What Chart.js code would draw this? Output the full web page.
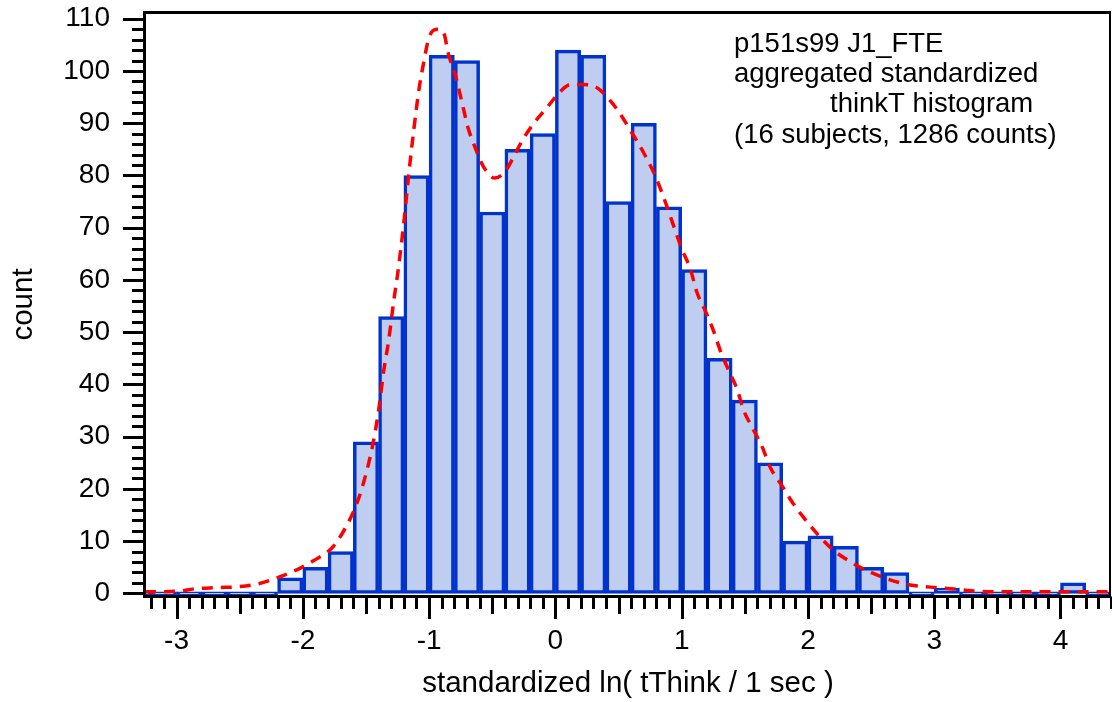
<!DOCTYPE html>
<html>
<head>
<meta charset="utf-8">
<title>thinkT histogram</title>
<script src="https://cdn.jsdelivr.net/npm/chart.js@4.4.1/dist/chart.umd.min.js"></script>
<style>
  html, body { margin: 0; padding: 0; background: #fff; }
  #wrap { width: 1112px; height: 702px; }
</style>
</head>
<body>
<div id="wrap"><canvas id="histChart" width="1112" height="702"></canvas></div>
<script>
// histogram bins, 0.2 wide, given by centre
const binCenters = [-3.3, -3.1, -2.9, -2.7, -2.5, -2.3, -2.1, -1.9, -1.7, -1.5, -1.3, -1.1, -0.9, -0.7, -0.5, -0.3, -0.1,
  0.1, 0.3, 0.5, 0.7, 0.9, 1.1, 1.3, 1.5, 1.7, 1.9, 2.1, 2.3, 2.5, 2.7, 2.9, 3.1, 3.3, 3.5, 3.7, 3.9, 4.1, 4.3];
const binCounts = [0, 0, 0, 0, 0, 0, 3, 5, 8, 29, 53, 80, 103, 102, 73, 85, 88,
  104, 103, 75, 90, 74, 62, 45, 37, 25, 10, 11, 9, 5, 4, 0, 1, 0, 0, 0, 0, 2, 0];

// smoothed density (red dashed)
const curveX = [-3.25, -3.0, -2.85, -2.68, -2.5, -2.36, -2.2, -2.04, -1.92, -1.77, -1.68, -1.6, -1.54, -1.45, -1.4, -1.36,
  -1.32, -1.28, -1.25, -1.2, -1.16, -1.12, -1.08, -1.04, -1.0, -0.93, -0.88, -0.85, -0.79, -0.74, -0.69, -0.63, -0.57,
  -0.48, -0.4, -0.33, -0.26, -0.17, -0.06, 0.04, 0.12, 0.22, 0.33, 0.41, 0.49, 0.59, 0.7, 0.78, 0.85, 0.92, 1.0, 1.07,
  1.12, 1.19, 1.25, 1.31, 1.37, 1.44, 1.49, 1.56, 1.64, 1.7, 1.8, 1.88, 1.98, 2.08, 2.2, 2.34, 2.49, 2.65, 2.81, 2.97,
  3.13, 3.29, 3.47, 3.8, 4.1, 4.4];
const curveY = [0.3, 0.4, 0.9, 1.1, 1.3, 1.8, 3.0, 4.6, 6.2, 8.7, 11.8, 15.6, 19.5, 28, 35, 42.5,
  48.5, 56, 61, 71, 80.5, 89, 96.5, 102, 106.5, 108, 107, 103.5, 99, 94, 89, 85, 81.7,
  79.5, 80.7, 83.6, 86.8, 90, 93.2, 96.1, 97.4, 97.4, 96.8, 95, 92.6, 88.8, 84.3, 80.5, 76.3, 71.5, 66, 62,
  57.7, 53.9, 50.4, 46.2, 42.8, 39, 35.1, 31.7, 27.9, 24.2, 20.4, 17.3, 14.1, 11.2, 8.3, 6.0, 4.1, 2.6, 1.6, 1.2,
  0.9, 0.5, 0.3, 0.3, 0.3, 0.3];

const xTicks = [-3, -2, -1, 0, 1, 2, 3, 4];
const yTicks = [0, 10, 20, 30, 40, 50, 60, 70, 80, 90, 100, 110];

const noteLines = ["p151s99 J1_FTE", "aggregated standardized", "thinkT histogram", "(16 subjects, 1286 counts)"];

const FAMILY = '"Liberation Sans", Arial, Helvetica, sans-serif';
const TICK_FONT = { family: FAMILY, size: 28 };
const TITLE_FONT = { family: FAMILY, size: 29.5 };

// frame, Igor-style tick marks and the note text
const framePlugin = {
  id: "frame",
  afterDraw(chart) {
    const { ctx, chartArea: a, scales } = chart;
    const x = scales.x, y = scales.y;
    const axisY = a.bottom + 0.5;
    const axisX = a.left - 0.5;
    ctx.save();
    ctx.strokeStyle = "#000";
    ctx.lineCap = "butt";
    ctx.lineWidth = 3;

    for (let i = -32; i <= 44; i++) {
      const px = Math.round(x.getPixelForValue(i / 10)) + 0.5;
      const len = i % 10 === 0 ? 21 : (i % 5 === 0 ? 16 : 11);
      ctx.beginPath();
      ctx.moveTo(px, axisY);
      ctx.lineTo(px, axisY + 1.5 + len);
      ctx.stroke();
    }
    for (let v = 0; v <= 110; v += 2) {
      const py = Math.round(y.getPixelForValue(v)) + 0.5;
      const len = v % 10 === 0 ? 20 : 11;
      ctx.beginPath();
      ctx.moveTo(axisX, py);
      ctx.lineTo(axisX - 1.5 - len, py);
      ctx.stroke();
    }

    ctx.beginPath();
    ctx.moveTo(axisX, a.top - 1);
    ctx.lineTo(axisX, axisY + 1.5);
    ctx.moveTo(axisX - 1.5, axisY);
    ctx.lineTo(a.right, axisY);
    ctx.moveTo(axisX - 1.5, a.top - 0.5);
    ctx.lineTo(a.right, a.top - 0.5);
    ctx.stroke();
    ctx.lineWidth = 2;
    ctx.beginPath();
    ctx.moveTo(a.right - 1, a.top - 2);
    ctx.lineTo(a.right - 1, axisY);
    ctx.stroke();

    ctx.fillStyle = "#000";
    ctx.font = "27.5px " + FAMILY;
    ctx.textBaseline = "alphabetic";
    ctx.textAlign = "left";
    ctx.fillText(noteLines[0], 734, 52);
    ctx.fillText(noteLines[1], 734, 82);
    ctx.fillText(noteLines[2], 830, 112);
    ctx.fillText(noteLines[3], 734, 143);
    ctx.restore();
  }
};

new Chart(document.getElementById("histChart"), {
  type: "bar",
  data: {
    datasets: [
      {
        type: "line",
        data: curveX.map((v, i) => ({ x: v, y: curveY[i] })),
        borderColor: "#ff0000",
        borderWidth: 3.5,
        borderDash: [11, 8],
        pointRadius: 0,
        fill: false,
        cubicInterpolationMode: "monotone",
        order: 0
      },
      {
        data: binCenters.map((c, i) => ({ x: c, y: binCounts[i] })),
        backgroundColor: "#bfcdf0",
        borderColor: "#0033cc",
        borderWidth: 3.5,
        borderSkipped: false,
        barPercentage: 1,
        categoryPercentage: 1,
        minBarLength: 3,
        clip: 0,
        order: 1
      }
    ]
  },
  options: {
    responsive: false,
    devicePixelRatio: 1,
    animation: false,
    layout: { padding: { top: 13, right: 1, bottom: 0, left: 0 } },
    plugins: { legend: { display: false }, tooltip: { enabled: false } },
    scales: {
      x: {
        type: "linear",
        min: -3.25,
        max: 4.4,
        offset: false,
        grid: { display: false, drawTicks: false, tickLength: 0 },
        border: { display: false },
        ticks: { font: TICK_FONT, color: "#000", padding: 28, maxRotation: 0, autoSkip: false, callback: v => String(v) },
        afterBuildTicks: s => { s.ticks = xTicks.map(v => ({ value: v })); },
        afterFit: s => { s.height = 106; s.paddingLeft = 0; s.paddingRight = 0; },
        title: { display: true, text: "standardized ln( tThink / 1 sec )", font: TITLE_FONT, color: "#000", padding: { top: 0, bottom: 0 } }
      },
      y: {
        min: -0.5,
        max: 111.1,
        grid: { display: false, drawTicks: false, tickLength: 0 },
        border: { display: false },
        ticks: { font: TICK_FONT, color: "#000", padding: 35, callback: v => String(v) },
        afterBuildTicks: s => { s.ticks = yTicks.map(v => ({ value: v })); },
        afterFit: s => { s.width = 145; s.paddingTop = 0; s.paddingBottom = 0; },
        title: { display: true, text: "count", font: TITLE_FONT, color: "#000", padding: { top: 6, bottom: 0 } }
      }
    }
  },
  plugins: [framePlugin]
});
</script>
</body>
</html>
